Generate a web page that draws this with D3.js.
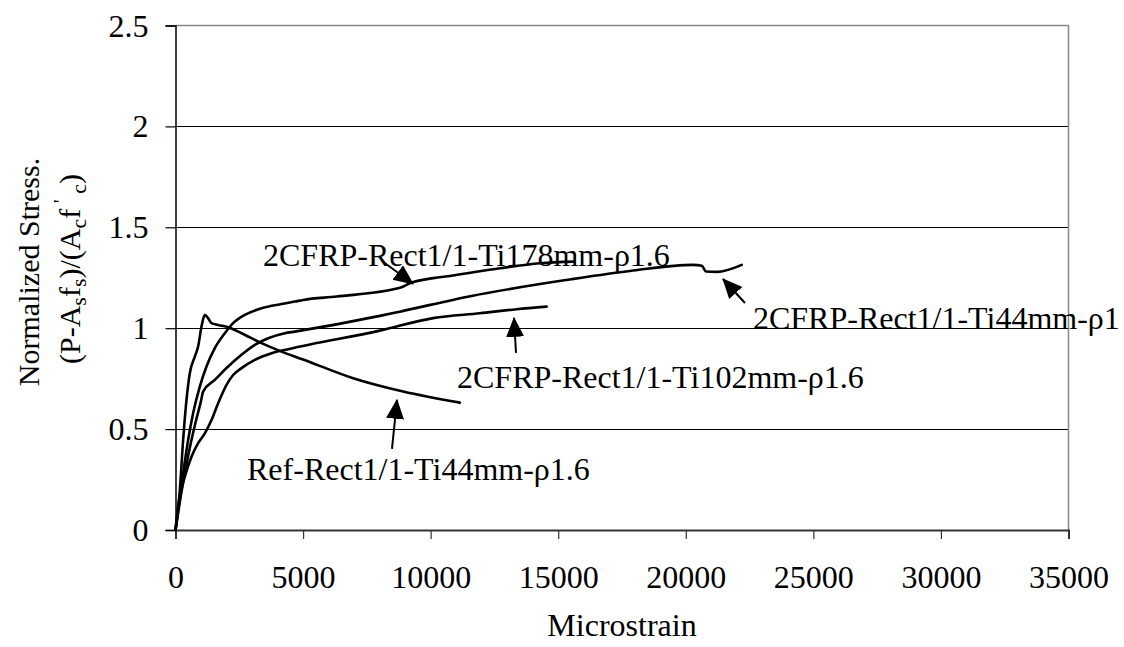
<!DOCTYPE html>
<html>
<head>
<meta charset="utf-8">
<script src="https://cdn.jsdelivr.net/npm/d3@7"></script>
<style>
  html, body { margin: 0; padding: 0; background: #fff; }
  svg { display: block; }
  text { font-family: "Liberation Serif", "Times New Roman", serif; fill: #000; }
</style>
</head>
<body>
<svg id="chart" width="1124" height="647"></svg>
<script>
// ---------- data ----------
const xTicks = [0, 5000, 10000, 15000, 20000, 25000, 30000, 35000];
const yTicks = [0, 0.5, 1, 1.5, 2, 2.5];

const refStrain = [0, 169, 299, 431, 561, 757, 886, 1019, 1149, 1278, 1411, 1671, 2063, 2588, 3372, 4157, 5003, 6964, 8924, 11147];
const refStress = [0, 0.198, 0.446, 0.645, 0.777, 0.859, 0.909, 1.008, 1.066, 1.05, 1.025, 1.016, 1.005, 0.975, 0.926, 0.884, 0.845, 0.752, 0.686, 0.631];

const t178Strain = [0, 299, 495, 690, 953, 1215, 1541, 1933, 2259, 2717, 3372, 4157, 4678, 5003, 6313, 8795, 9187, 10100, 10755, 12716, 14284, 15600];
const t178Stress = [0, 0.281, 0.446, 0.579, 0.711, 0.81, 0.901, 0.975, 1.025, 1.066, 1.099, 1.12, 1.132, 1.14, 1.157, 1.2, 1.223, 1.248, 1.259, 1.297, 1.322, 1.33];

const t44Strain = [0, 250, 500, 780, 1000, 1082, 1541, 2063, 2588, 3109, 3631, 4286, 4678, 8010, 8795, 11600, 15331, 17942, 20295, 20625, 20794, 21213, 22193];
const t44Stress = [0, 0.2, 0.37, 0.53, 0.64, 0.686, 0.744, 0.81, 0.868, 0.917, 0.95, 0.975, 0.983, 1.061, 1.082, 1.16, 1.239, 1.286, 1.314, 1.309, 1.281, 1.279, 1.314];

const t102Strain = [0, 102, 365, 627, 886, 1149, 1411, 1671, 2000, 2259, 2588, 3109, 3764, 4415, 8010, 10100, 11932, 13370, 14547];
const t102Stress = [0, 0.116, 0.264, 0.363, 0.43, 0.479, 0.545, 0.628, 0.719, 0.768, 0.802, 0.843, 0.876, 0.896, 0.988, 1.05, 1.074, 1.094, 1.107];

// annotations: label text, label anchor (strain, stress), arrow tail & tip (strain, stress)
const annLabels = ["2CFRP-Rect1/1-Ti178mm-\u03c11.6", "2CFRP-Rect1/1-Ti44mm-\u03c11", "2CFRP-Rect1/1-Ti102mm-\u03c11.6", "Ref-Rect1/1-Ti44mm-\u03c11.6"];
const annLabelX = [3430, 22633, 11033, 2803];
const annLabelY = [1.309, 0.997, 0.704, 0.248];
const annTailX = [8134, 22320, 13345, 8485];
const annTailY = [1.329, 1.125, 0.878, 0.402];
const annTipX = [9310, 21458, 13267, 8681];
const annTipY = [1.22, 1.244, 1.051, 0.645];

// ---------- chart ----------
const svg = d3.select("#chart");
svg.append("rect").attr("width", 1124).attr("height", 647).attr("fill", "#fff");

const x = d3.scaleLinear().domain([0, 35000]).range([175.5, 1068.5]);
const y = d3.scaleLinear().domain([0, 2.5]).range([530, 25.5]);
const FS = 32;

// gridlines
svg.append("g").selectAll("line").data(yTicks.filter(v => v > 0 && v < 2.5)).join("line")
  .attr("x1", x(0)).attr("x2", x(35000))
  .attr("y1", d => Math.round(y(d)) + 0.5).attr("y2", d => Math.round(y(d)) + 0.5)
  .attr("stroke", "#000").attr("stroke-width", 1);

// plot border (top & right)
svg.append("path")
  .attr("d", `M${x(0)},${y(2.5)}H${x(35000)}V${y(0)}`)
  .attr("fill", "none").attr("stroke", "#888").attr("stroke-width", 1.5);

// axes
const yAxis = d3.axisLeft(y).tickValues(yTicks).tickSize(10).tickPadding(17).tickFormat(d3.format("~g"));
const gy = svg.append("g").attr("transform", `translate(${x(0)},0)`).call(yAxis);
gy.select(".domain").attr("stroke", "#000").attr("stroke-width", 1.5);
gy.selectAll(".tick line").attr("stroke", "#000").attr("stroke-width", 1.2);
gy.selectAll(".tick text").attr("font-size", FS).attr("font-family", "Liberation Serif").attr("dy", "0.33em");

const xAxis = d3.axisBottom(x).tickValues(xTicks).tickSize(9).tickPadding(26).tickFormat(d3.format("d"));
const gx = svg.append("g").attr("transform", `translate(0,${y(0)})`).call(xAxis);
gx.select(".domain").attr("stroke", "#333").attr("stroke-width", 2);
gx.selectAll(".tick line").attr("stroke", "#333").attr("stroke-width", 1.2);
gx.selectAll(".tick text").attr("font-size", FS).attr("font-family", "Liberation Serif");

// axis titles
svg.append("text").attr("x", x(17500)).attr("y", 636).attr("text-anchor", "middle")
  .attr("font-size", FS).text("Microstrain");

const TFS = 30;
const yt = svg.append("g").attr("transform", "rotate(-90)");
yt.append("text").attr("x", -272).attr("y", 39).attr("text-anchor", "middle").attr("font-size", TFS).text("Normalized Stress.");
const l2 = yt.append("text").attr("x", -269).attr("y", 80).attr("text-anchor", "middle").attr("font-size", TFS);
const SUB = 22;
const parts = [
  ["(P-A", 0, TFS], ["s", 6, SUB], ["f", -6, TFS], ["s", 6, SUB], [")/(A", -6, TFS], ["c", 6, SUB],
  ["f", -6, TFS], ["\u00a0'", -12, SUB], ["\u00a0c", 18, SUB], [")", -6, TFS]
];
parts.forEach(p => l2.append("tspan").attr("dy", p[1]).attr("font-size", p[2]).text(p[0]));

// series
const line = d3.line().x(d => x(d[0])).y(d => y(d[1])).curve(d3.curveMonotoneX);
const series = [
  [refStrain, refStress],
  [t178Strain, t178Stress],
  [t44Strain, t44Stress],
  [t102Strain, t102Stress]
];
svg.append("g").selectAll("path").data(series).join("path")
  .attr("d", s => line(d3.zip(s[0], s[1])))
  .attr("fill", "none").attr("stroke", "#000").attr("stroke-width", 2.6)
  .attr("stroke-linejoin", "round").attr("stroke-linecap", "round");

// arrows
svg.append("defs").append("marker")
  .attr("id", "arr").attr("viewBox", "0 0 20 20").attr("refX", 19).attr("refY", 10)
  .attr("markerWidth", 20).attr("markerHeight", 20).attr("markerUnits", "userSpaceOnUse")
  .attr("orient", "auto")
  .append("path").attr("d", "M0,1L20,10L0,19Z").attr("fill", "#000");

const idx = d3.range(annLabels.length);
svg.append("g").selectAll("line").data(idx).join("line")
  .attr("x1", i => x(annTailX[i])).attr("y1", i => y(annTailY[i]))
  .attr("x2", i => x(annTipX[i])).attr("y2", i => y(annTipY[i]))
  .attr("stroke", "#000").attr("stroke-width", 2).attr("marker-end", "url(#arr)");

svg.append("g").selectAll("text").data(idx).join("text")
  .attr("x", i => x(annLabelX[i])).attr("y", i => y(annLabelY[i]))
  .attr("font-size", FS).text(i => annLabels[i]);
</script>
</body>
</html>
